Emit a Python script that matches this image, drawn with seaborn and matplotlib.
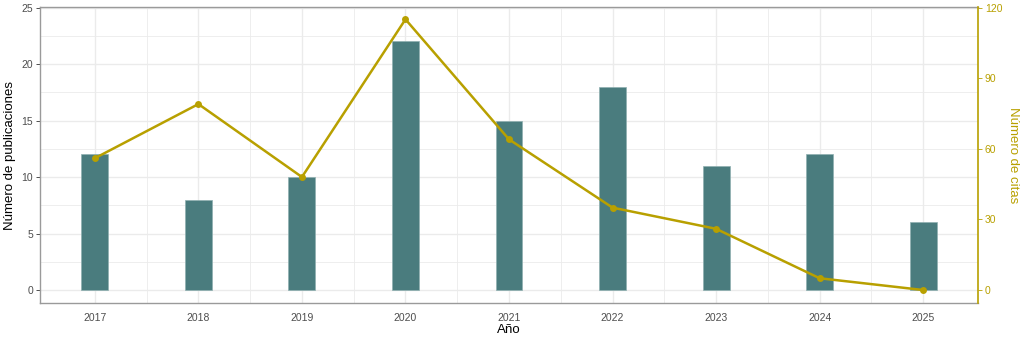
import matplotlib
matplotlib.use("Agg")
import matplotlib.pyplot as plt
import seaborn as sns
import pandas as pd
import numpy as np

years = [2017, 2018, 2019, 2020, 2021, 2022, 2023, 2024, 2025]
publicaciones = [12, 8, 10, 22, 15, 18, 11, 12, 6]
citas = [56, 79, 48, 115, 64, 35, 26, 5, 0]

df = pd.DataFrame({"year": years, "pub": publicaciones, "citas": citas})

sns.set_theme(style="white")
plt.rcParams['font.family'] = ['Liberation Sans', 'DejaVu Sans']

bar_color = "#4A7C7E"
line_color = "#B8A000"
grid_color = "#EBEBEB"
text_color = "#4D4D4D"

fig = plt.figure(figsize=(10.24, 3.41), dpi=100)
ax = fig.add_axes([40/1024, 1-303/341, (978-40)/1024, (303-7)/341])

scale = 120/25.0
ax.set_ylim(-1.15, 25.05)

# grid
for v in np.arange(0, 25.1, 2.5):
    ax.axhline(v, color=grid_color, lw=0.6 if v % 5 else 1.0, zorder=0)
for v in np.arange(2017, 2025.1, 0.5):
    ax.axvline(v, color=grid_color, lw=1.0 if v % 1 == 0 else 0.6, zorder=0)

sns.barplot(data=df, x="year", y="pub", native_scale=True, width=0.26,
            color=bar_color, saturation=1, ax=ax, zorder=2,
            edgecolor="#8FB0B1", linewidth=0.5)

ax2 = ax.twinx()
ax2.set_ylim(-1.15*scale, 25.05*scale)
sns.lineplot(data=df, x="year", y="citas", color=line_color, lw=1.8,
             marker="o", markersize=5, markeredgewidth=0, ax=ax2, zorder=3)
ax.set_xlim(2017-0.53, 2025+0.53)

ax.set_xticks(years)
ax.set_xticklabels([str(y) for y in years])
ax.set_yticks([0, 5, 10, 15, 20, 25])
ax2.set_yticks([0, 30, 60, 90, 120])

ax.set_xlabel("Año", fontsize=9.5, color="black", labelpad=1)
ax.set_ylabel("Número de publicaciones", fontsize=9.5, color="black", labelpad=4)
ax2.set_ylabel("Número de citas", fontsize=9.5, color=line_color, rotation=270, labelpad=12)

ax.tick_params(axis="x", labelsize=7.5, colors=text_color, length=3, width=0.6, color="#333333", pad=4)
ax.tick_params(axis="y", labelsize=7.5, colors=text_color, length=3, width=0.6, color="#333333", pad=2)
ax2.tick_params(axis="y", labelsize=7.5, colors=line_color, length=3, width=0.6, color=line_color, pad=2)

for s in ["top", "left", "bottom"]:
    ax2.spines[s].set_visible(False)
for s in ax.spines.values():
    s.set_color("#9A9A9A")
    s.set_linewidth(1.0)
ax.spines["right"].set_visible(False)
ax2.spines["right"].set_color(line_color)
ax2.spines["right"].set_linewidth(1.2)

fig.savefig("out.png", dpi=100)
